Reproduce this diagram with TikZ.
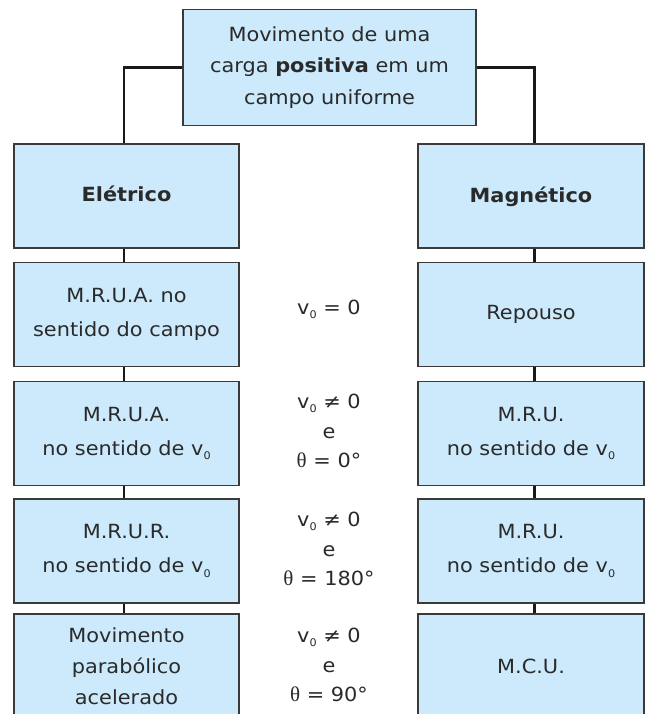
\documentclass[tikz,border=0pt]{standalone}
\usepackage{fontspec}
\setmainfont[FakeStretch=1.07]{DejaVu Sans}
\newfontfamily\thetafont{Liberation Serif}
\definecolor{boxfill}{HTML}{CCEAFB}
\definecolor{boxline}{HTML}{3A3A3A}
\definecolor{txt}{HTML}{2A2A2A}
\newcommand{\vz}{v\raisebox{-0.4ex}{\fontsize{10.5}{10.5}\selectfont 0}}
\newcommand{\thz}{{\thetafont\fontsize{21}{21}\selectfont θ}}
\tikzset{
  box/.style={draw=boxline, line width=1.2pt, fill=boxfill, text=txt, align=center,
    inner sep=0pt, font=\fontsize{19.5}{34}\selectfont},
  lbox/.style={box, minimum width=225pt, minimum height=104pt},
  rbox/.style={box, minimum width=226pt, minimum height=104pt},
  cond/.style={text=txt, align=center, inner sep=0pt, font=\fontsize{19.5}{29.5}\selectfont},
  link/.style={draw=black!90, line width=2.2pt}
}
\begin{document}
\begin{tikzpicture}[x=1pt,y=-1pt]
\useasboundingbox (0,0) rectangle (651,714);
\clip (0,0) rectangle (651,714);
\fill[white] (0,0) rectangle (651,714);
\coordinate (lx) at (123.8,0);
\coordinate (rx) at (534.5,0);
\node[box, minimum width=293pt, minimum height=116.5pt, font=\fontsize{19.5}{31.5}\selectfont] (top) at (329.5,67.5)
  {Movimento de uma\\carga \textbf{positiva} em um\\campo uniforme};
\node[lbox] (e1) at (126.5,196) {\textbf{Elétrico}\vphantom{g}};
\node[rbox] (m1) at (531,196) {\textbf{Magnético}\vphantom{É}};
\node[lbox] (e2) at (126.5,314.7) {M.R.U.A. no\\sentido do campo};
\node[rbox] (m2) at (531,314.7) {Repouso};
\node[lbox] (e3) at (126.5,433.3) {M.R.U.A.\\no sentido de \vz};
\node[rbox] (m3) at (531,433.3) {M.R.U.\\no sentido de \vz};
\node[lbox] (e4) at (126.5,551) {M.R.U.R.\\no sentido de \vz};
\node[rbox] (m4) at (531,551) {M.R.U.\\no sentido de \vz};
\node[lbox, font=\fontsize{19.5}{31}\selectfont] (e5) at (126.5,666) {Movimento\\parabólico\\acelerado};
\node[rbox] (m5) at (531,666) {M.C.U.};
\node[cond] (c2) at (329,309) {\vz\ = 0};
\node[cond] (c3) at (329,431) {\vz\ ≠ 0\\e\\\thz\ = 0°};
\node[cond] (c4) at (329,549) {\vz\ ≠ 0\\e\\\thz\ = 180°};
\node[cond] (c5) at (329,665) {\vz\ ≠ 0\\e\\\thz\ = 90°};
\draw[link] (top.west) -- (top.west -| lx) -- (e1.north -| lx);
\draw[link] (top.east) -- (top.east -| rx) -- (m1.north -| rx);
\foreach \a/\b in {e1/e2,e2/e3,e3/e4,e4/e5}{
  \draw[link] (\a.south -| lx) -- (\b.north -| lx);
}
\foreach \a/\b in {m1/m2,m2/m3,m3/m4,m4/m5}{
  \draw[link] (\a.south -| rx) -- (\b.north -| rx);
}
\end{tikzpicture}
\end{document}
